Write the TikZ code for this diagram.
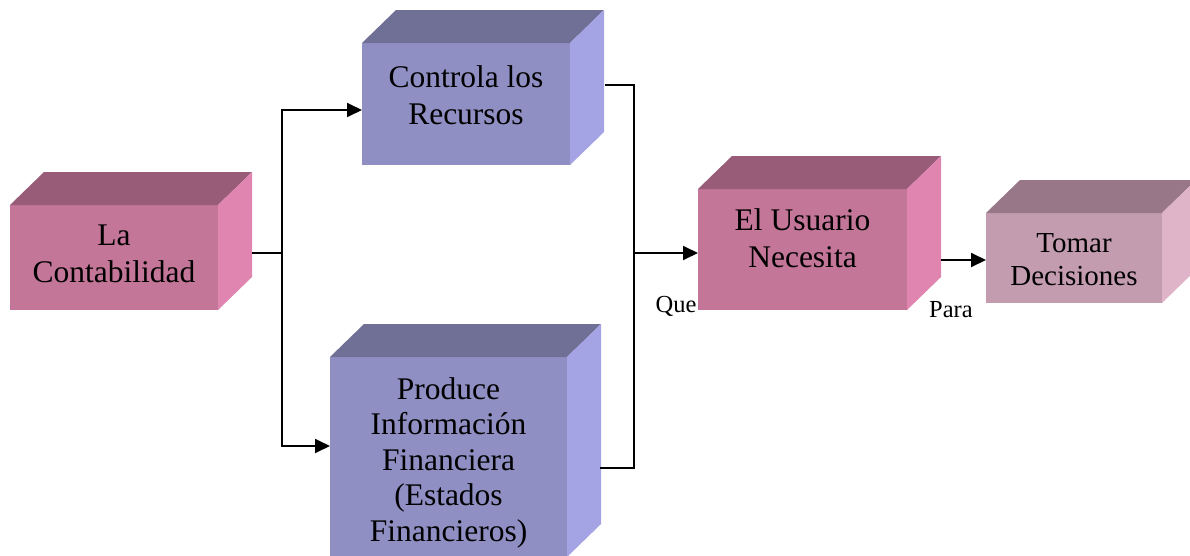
\documentclass[tikz,border=0pt]{standalone}
\usepackage{fontspec}
\setmainfont{Liberation Serif}
\usetikzlibrary{calc,arrows.meta}
\definecolor{pkF}{HTML}{C47698}
\definecolor{pkT}{HTML}{985C78}
\definecolor{pkS}{HTML}{E084B0}
\definecolor{puF}{HTML}{8F8FC4}
\definecolor{puT}{HTML}{707096}
\definecolor{puS}{HTML}{A4A4E4}
\definecolor{mvF}{HTML}{C49CB0}
\definecolor{mvT}{HTML}{987888}
\definecolor{mvS}{HTML}{E0B4C8}
\tikzset{
  face/.style={rectangle, inner sep=0pt, outer sep=0pt},
  boxtext/.style={inner sep=0pt, align=center, anchor=north, font=\fontsize{31.5}{37}\selectfont},
  conn/.style={line width=1.8pt},
  arr/.style={conn, -{Triangle[length=15pt,width=14pt]}},
  small/.style={inner sep=0pt, anchor=base, font=\fontsize{24.5}{28}\selectfont}
}
\newcommand\cubefaces[3]{%
  \fill[#2] (#1.north west) -- (#1.north east) -- ++(34,-33) -- ($(#1.north west)+(34,-33)$) -- cycle;
  \fill[#3] (#1.north east) -- (#1.south east) -- ++(34,-33) -- ($(#1.north east)+(34,-33)$) -- cycle;
}
\begin{document}
\begin{tikzpicture}[x=1pt,y=-1pt]
\useasboundingbox (0,0) rectangle (1190,555);
% front faces
\node[face, fill=pkF, minimum width=208pt, minimum height=105pt] (b1) at (114,257.5) {};
\node[face, fill=puF, minimum width=208pt, minimum height=122pt] (b2) at (466,104) {};
\node[face, fill=puF, minimum width=237pt, minimum height=200pt] (b3) at (448.5,457) {};
\node[face, fill=pkF, minimum width=209pt, minimum height=121pt] (b4) at (802.5,249.5) {};
\node[face, fill=mvF, minimum width=176pt, minimum height=90pt] (b5) at (1074,258) {};
\cubefaces{b1}{pkT}{pkS}
\cubefaces{b2}{puT}{puS}
\cubefaces{b3}{puT}{puS}
\cubefaces{b4}{pkT}{pkS}
\cubefaces{b5}{mvT}{mvS}
% texts
\node[boxtext] (t1) at ($(b1.north)+(0,20)$) {La\\Contabilidad};
\node[boxtext] (t2) at ($(b2.north)+(0,22)$) {Controla los\\Recursos};
\node[boxtext, font=\fontsize{31.5}{35.5}\selectfont] (t3) at ($(b3.north)+(0,20)$) {Produce\\Información\\Financiera\\(Estados\\Financieros)};
\node[boxtext] (t4) at ($(b4.north)+(0,19)$) {El Usuario\\Necesita};
\node[boxtext, font=\fontsize{29}{33}\selectfont] (t5) at ($(b5.north)+(0,20)$) {Tomar\\Decisiones};
% connectors
\coordinate (j1) at (282,253);
\coordinate (b1out) at ($(b1.east)+(34,-4.5)$);
\draw[conn] (b1out) -- (j1);
\draw[arr] (j1) |- ($(b2.west)+(0,6)$);
\draw[arr] (j1) |- ($(b3.west)+(0,-11)$);
\coordinate (j2) at (634,253);
\coordinate (b2out) at ($(b2.east)+(35,-19)$);
\coordinate (b3out) at ($(b3.east)+(33,11)$);
\draw[conn] (b2out) -| (j2) |- (b3out);
\draw[arr] (j2) -- (b4.west |- j2);
\coordinate (b4out) at ($(b4.east)+(34,10.5)$);
\draw[arr] (b4out) -- (b5.west |- b4out);
\node[small] (que) at (676,312) {Que};
\node[small] (para) at (951,317) {Para};
\end{tikzpicture}
\end{document}
